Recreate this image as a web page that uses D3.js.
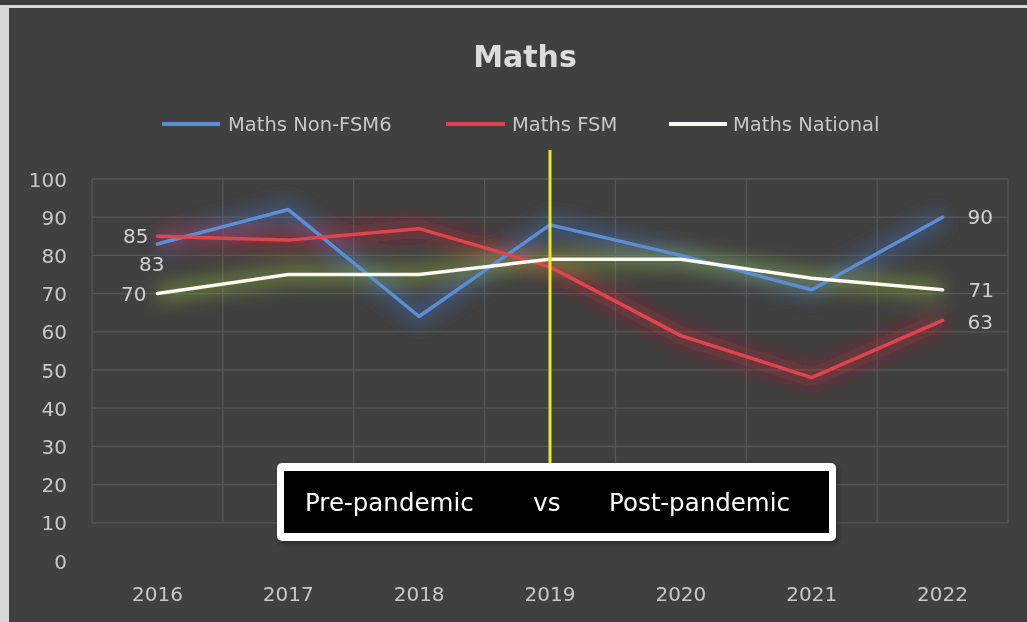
<!DOCTYPE html>
<html><head><meta charset="utf-8">
<script src="https://cdn.jsdelivr.net/npm/d3@7"></script>
<style>
html,body{margin:0;padding:0;background:#3c3c3c;}
svg{display:block;}
</style></head>
<body>
<svg id="chart" width="1027" height="622"></svg>
<script>
const years = ["2016","2017","2018","2019","2020","2021","2022"];
const nonFsm6 = [83, 92, 64, 88, 80, 71, 90];
const fsm = [85, 84, 87, 77, 59, 48, 63];
const national = [70, 75, 75, 79, 79, 74, 71];
const yTicks = [0,10,20,30,40,50,60,70,80,90,100];
const seriesNames = ["Maths Non-FSM6", "Maths FSM", "Maths National"];
const titleText = "Maths";
const boxText = ["Pre-pandemic", "vs", "Post-pandemic"];

const FONT = "DejaVu Sans, sans-serif";
const svg = d3.select("#chart");
const W = 1027, H = 622;

// background panel
svg.append("rect").attr("x",0).attr("y",0).attr("width",W).attr("height",H).attr("fill","#3c3c3c");
svg.append("rect").attr("x",9).attr("y",8).attr("width",W-9).attr("height",H-8).attr("fill","#404040");
svg.append("rect").attr("x",0).attr("y",5).attr("width",W).attr("height",3).attr("fill","#d8d8d8");
svg.append("rect").attr("x",0).attr("y",5).attr("width",9).attr("height",H-5).attr("fill","#d8d8d8");

const defs = svg.append("defs");
function mkFilter(id, sd){
  const f = defs.append("filter").attr("id",id).attr("filterUnits","userSpaceOnUse")
    .attr("x",-2*W).attr("y",-2*H).attr("width",5*W).attr("height",5*H);
  f.append("feGaussianBlur").attr("stdDeviation",sd);
}
mkFilter("glow", 9);
mkFilter("soft", 0.6);
mkFilter("shadow", 2);

const x = d3.scaleBand().domain(years).range([92, 1008]);
const y = d3.scaleLinear().domain([0,100]).range([561, 179]);
const cx = d => x(d) + x.bandwidth()/2;

// gridlines (visible from 10 to 100 as in the reference)
const grid = svg.append("g");
grid.selectAll("line.h").data(yTicks.filter(t=>t>0)).join("line")
  .attr("x1",92).attr("x2",1008).attr("y1",d=>y(d)).attr("y2",d=>y(d))
  .attr("stroke","#575757").attr("stroke-width",1.3);
grid.selectAll("line.v").data(years).join("line")
  .attr("x1",d=>x(d)).attr("x2",d=>x(d)).attr("y1",y(10)).attr("y2",y(100))
  .attr("stroke","#575757").attr("stroke-width",1.3);
grid.append("line").attr("x1",1008).attr("x2",1008).attr("y1",y(10)).attr("y2",y(100))
  .attr("stroke","#575757").attr("stroke-width",1.3);

// axes
const yAxis = d3.axisLeft(y).tickValues(yTicks).tickSize(0).tickPadding(0);
const gy = svg.append("g").attr("transform","translate(67,0)").call(yAxis);
gy.select(".domain").remove();
gy.selectAll("text").attr("font-family",FONT).attr("font-size",20).attr("fill","#c8c8c8").attr("dy","0.35em").attr("filter","url(#soft)");

const xAxis = d3.axisBottom(x).tickSize(0).tickPadding(0);
const gx = svg.append("g").attr("transform","translate(0,587)").call(xAxis);
gx.select(".domain").remove();
gx.selectAll("text").attr("font-family",FONT).attr("font-size",20).attr("fill","#c8c8c8").attr("dy","0.7em").attr("filter","url(#soft)");

// title
svg.append("text").attr("x",525).attr("y",67).attr("text-anchor","middle")
  .attr("font-family",FONT).attr("font-weight","bold").attr("font-size",30)
  .attr("fill","#dcdcdc").attr("filter","url(#soft)").text(titleText);

// series
const series = [
  {name: seriesNames[0], vals: nonFsm6, color: "#5b8ed6", glow: "#3f6fc0"},
  {name: seriesNames[1], vals: fsm, color: "#e0444e", glow: "#d02030"},
  {name: seriesNames[2], vals: national, color: "#fbfbf2", glow: "#9cc23a"}
];
const line = d3.line().x((d,i)=>cx(years[i])).y(d=>y(d));

const glowG = svg.append("g").attr("filter","url(#glow)");
series.forEach(s => {
  glowG.append("path").datum(s.vals).attr("d",line).attr("fill","none")
    .attr("stroke",s.glow).attr("stroke-width",18).attr("stroke-opacity",0.42)
    .attr("stroke-linejoin","round");
});
series.forEach(s => {
  svg.append("path").datum(s.vals).attr("d",line).attr("fill","none")
    .attr("stroke",s.color).attr("stroke-width",3.5)
    .attr("stroke-linejoin","round").attr("stroke-linecap","round").attr("filter","url(#soft)");
});

// data labels
const lab = svg.append("g").attr("font-family",FONT).attr("font-size",20).attr("fill","#d0d0d0").attr("filter","url(#soft)");
lab.append("text").attr("x",cx(years[0])-9).attr("y",y(fsm[0])).attr("dy","0.35em").attr("text-anchor","end").text(fsm[0]);
lab.append("text").attr("x",cx(years[0])+7).attr("y",y(nonFsm6[0])+20).attr("dy","0.35em").attr("text-anchor","end").text(nonFsm6[0]);
lab.append("text").attr("x",cx(years[0])-11).attr("y",y(national[0])).attr("dy","0.35em").attr("text-anchor","end").text(national[0]);
const last = years.length-1;
lab.append("text").attr("x",cx(years[last])+25).attr("y",y(nonFsm6[last])).attr("dy","0.35em").text(nonFsm6[last]);
lab.append("text").attr("x",cx(years[last])+26).attr("y",y(national[last])).attr("dy","0.35em").text(national[last]);
lab.append("text").attr("x",cx(years[last])+25).attr("y",y(fsm[last])+2).attr("dy","0.35em").text(fsm[last]);

// legend
const legendItems = [
  {x1:162, x2:220, tx:228},
  {x1:446, x2:505, tx:512},
  {x1:669, x2:727, tx:733}
];
const lg = svg.append("g");
series.forEach((s,i) => {
  const p = legendItems[i];
  lg.append("line").attr("x1",p.x1).attr("x2",p.x2).attr("y1",124).attr("y2",124)
    .attr("stroke",s.color).attr("stroke-width",4).attr("filter","url(#soft)");
  lg.append("text").attr("x",p.tx).attr("y",124).attr("dy","0.35em")
    .attr("font-family",FONT).attr("font-size",19.5).attr("fill","#c8c8c8").attr("filter","url(#soft)").text(s.name);
});

// yellow divider
svg.append("line").attr("x1",cx("2019")).attr("x2",cx("2019")).attr("y1",150).attr("y2",464)
  .attr("stroke","#e6e62a").attr("stroke-width",3).attr("filter","url(#soft)");

// annotation box
svg.append("rect").attr("x",279).attr("y",466).attr("width",559).attr("height",78).attr("rx",5)
  .attr("fill","#202020").attr("opacity",0.6).attr("filter","url(#shadow)");
svg.append("rect").attr("x",277).attr("y",463).attr("width",559).attr("height",78).attr("rx",5)
  .attr("fill","#ffffff");
svg.append("rect").attr("x",284).attr("y",471).attr("width",545).attr("height",62).attr("fill","#000000");
const bt = svg.append("g").attr("font-family",FONT).attr("font-size",24.5).attr("fill","#ffffff").attr("filter","url(#soft)");
bt.append("text").attr("x",305).attr("y",502).attr("dy","0.35em").text(boxText[0]);
bt.append("text").attr("x",547).attr("y",502).attr("dy","0.35em").attr("text-anchor","middle").text(boxText[1]);
bt.append("text").attr("x",609).attr("y",502).attr("dy","0.35em").text(boxText[2]);
</script>
</body></html>
